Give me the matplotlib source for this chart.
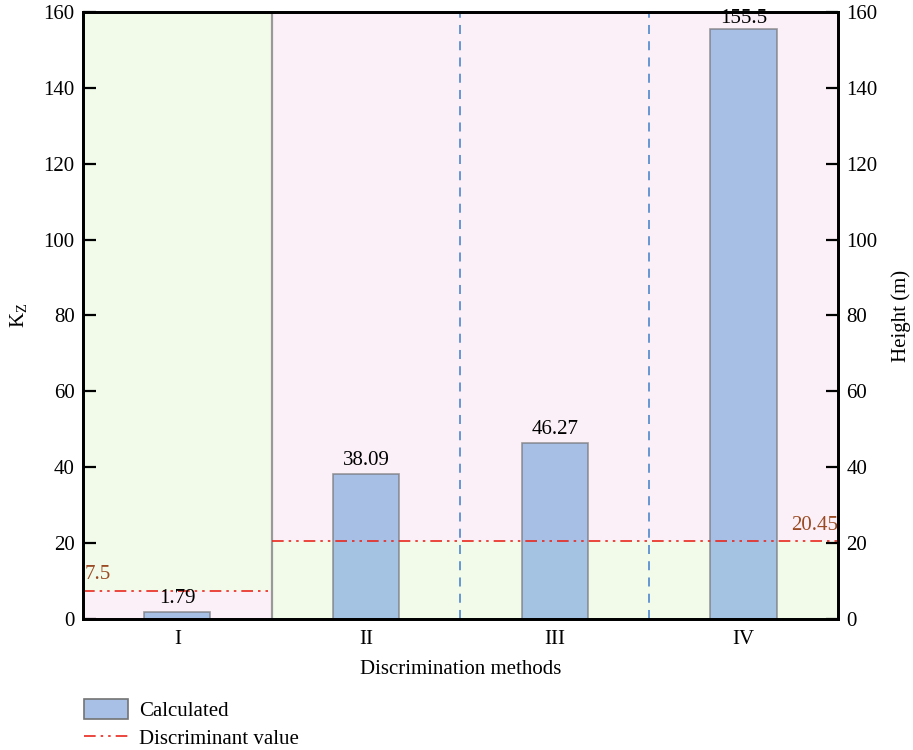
import matplotlib.pyplot as plt
import numpy as np
from matplotlib.lines import Line2D
from matplotlib.patches import Patch

methods = ["I", "II", "III", "IV"]
kz_values = [1.79, 38.09, 46.27, 155.5]
thresh_I = 7.5
thresh_rest = 20.45

COLOR_GREEN = "#F2FBEA"
COLOR_PINK = "#FCF0F8"
COLOR_BAR = "#84AADE"
COLOR_EDGE = "0.45"
COLOR_LIMIT = "#E8281E"
COLOR_LIMIT_TXT = "#9A4A22"
DASHDOTDOT = (0, (7, 3, 1.5, 3, 1.5, 3))

plt.rcParams.update({
    "font.family": "Liberation Serif",
    "font.size": 15,
    "xtick.direction": "in",
    "ytick.direction": "in",
})

fig = plt.figure(figsize=(9.13, 7.5), dpi=100)
ax = fig.add_axes([0.0909, 0.1747, 0.8268, 0.8093])

x = np.arange(len(methods))
ymax = 160
ax.set_xlim(-0.5, 3.5)
ax.set_ylim(0, ymax)

# background zones: below/above the discriminant value
ax.axvspan(-0.5, 0.5, ymin=thresh_I / ymax, ymax=1, color=COLOR_GREEN, lw=0, zorder=0)
ax.axvspan(-0.5, 0.5, ymin=0, ymax=thresh_I / ymax, color=COLOR_PINK, lw=0, zorder=0)
ax.axvspan(0.5, 3.5, ymin=thresh_rest / ymax, ymax=1, color=COLOR_PINK, lw=0, zorder=0)
ax.axvspan(0.5, 3.5, ymin=0, ymax=thresh_rest / ymax, color=COLOR_GREEN, lw=0, zorder=0)

ax.axvline(0.5, color="0.6", lw=1.6, zorder=1)
for xv in (1.5, 2.5):
    ax.axvline(xv, color="#5B8FD0", lw=1.3, ls=(0, (5, 4)), zorder=1)

bars = ax.bar(x, kz_values, width=0.35, color=COLOR_BAR, alpha=0.7,
              edgecolor=COLOR_EDGE, linewidth=1.2, zorder=2)
for b in bars:
    b.set_edgecolor(COLOR_EDGE)
for xi, v in zip(x, kz_values):
    off = 0.2 if v > 150 else 1.2
    ax.text(xi, v + off, f"{v:g}", ha="center", va="bottom", zorder=4)

ax.hlines(thresh_I, -0.5, 0.5, color=COLOR_LIMIT, lw=1.2, ls=DASHDOTDOT, zorder=3)
ax.hlines(thresh_rest, 0.5, 3.5, color=COLOR_LIMIT, lw=1.2, ls=DASHDOTDOT, zorder=3)
ax.text(-0.49, thresh_I + 1.8, f"{thresh_I:g}", color=COLOR_LIMIT_TXT,
        ha="left", va="bottom", zorder=4)
ax.text(3.5, thresh_rest + 1.8, f"{thresh_rest:g}", color=COLOR_LIMIT_TXT,
        ha="right", va="bottom", zorder=4)

ax.set_xticks(x)
ax.set_xticklabels(methods)
ax.tick_params(axis="x", length=0, pad=8)
ax.set_yticks(np.arange(0, 161, 20))
ax.tick_params(axis="y", length=9, width=1.6, pad=6)
ax.set_xlabel("Discrimination methods", labelpad=8)
ax.set_ylabel("K$_\\mathregular{Z}$", labelpad=10)
for s in ax.spines.values():
    s.set_linewidth(2)
    s.set_zorder(5)

ax2 = ax.twinx()
ax2.set_ylim(0, ymax)
ax2.set_yticks(np.arange(0, 161, 20))
ax2.tick_params(axis="y", length=9, width=1.6, pad=6)
ax2.set_ylabel("Height (m)", labelpad=10)
for s in ax2.spines.values():
    s.set_linewidth(2)

handles = [
    Patch(facecolor="#A8BFE6", edgecolor=COLOR_EDGE, linewidth=1.2, label="Calculated"),
    Line2D([0], [0], color=COLOR_LIMIT, lw=1.2, ls=DASHDOTDOT, label="Discriminant value"),
]
fig.legend(handles=handles, loc="upper left", bbox_to_anchor=(0.092, 0.068),
           frameon=False, handlelength=2.1, handleheight=1.1, handletextpad=0.55,
           labelspacing=0.3, borderaxespad=0, borderpad=0)

fig.savefig("out.png", dpi=100, facecolor="white")
